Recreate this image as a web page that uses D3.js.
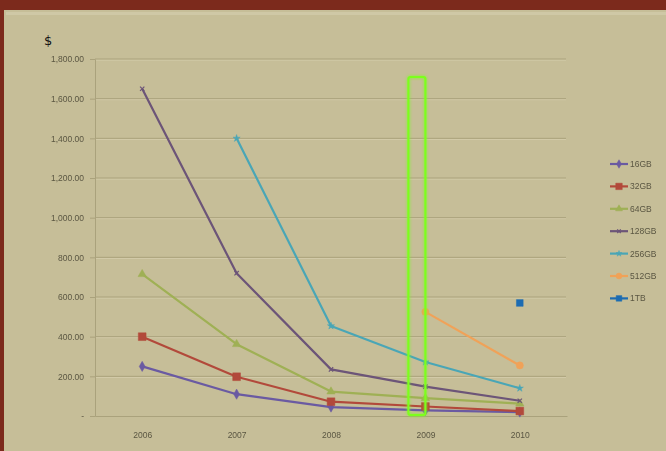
<!DOCTYPE html>
<html><head><meta charset="utf-8">
<script src="https://cdn.jsdelivr.net/npm/d3@7"></script>
<style>html,body{margin:0;padding:0;background:#c7bf99;}svg{display:block;}</style>
</head><body>
<svg id="chart" width="666" height="451"></svg>
<script>
const years = ["2006","2007","2008","2009","2010"];
const seriesNames = ["16GB","32GB","64GB","128GB","256GB","512GB","1TB"];
const s16GB  = [250, 110, 45, 28, 20];
const s32GB  = [400, 198, 72, 48, 25];
const s64GB  = [715, 362, 123, 90, 62];
const s128GB = [1650, 720, 235, 148, 77];
const s256GB = [null, 1400, 454, 272, 140];
const s512GB = [null, null, null, 525, 255];
const s1TB   = [null, null, null, null, 570];
const yTicks = [0, 200, 400, 600, 800, 1000, 1200, 1400, 1600, 1800];
const highlightYear = "2009";

const seriesValues = [s16GB, s32GB, s64GB, s128GB, s256GB, s512GB, s1TB];
const colors = ["#6a5aa2", "#b24a3a", "#9fb054", "#6c5478", "#4aa6b6", "#f0a258", "#1c6cb2"];
const markers = ["diamond", "square", "triangle", "cross", "star", "circle", "square"];
const markerSizes = [30, 60, 30, 14, 16, 40, 45];

const svg = d3.select("#chart");
// frame
svg.append("rect").attr("x",0).attr("y",0).attr("width",666).attr("height",451).attr("fill","#7c2a1c");
svg.append("rect").attr("x",4).attr("y",10).attr("width",662).attr("height",441).attr("fill","#c6be98");
svg.append("rect").attr("x",6).attr("y",12).attr("width",660).attr("height",3).attr("fill","#cfc8a6");

const defs = svg.append("defs");
defs.append("filter").attr("id","soft").append("feGaussianBlur").attr("stdDeviation",0.45);
const glow = defs.append("filter").attr("id","glow").attr("x","-50%").attr("y","-10%").attr("width","200%").attr("height","120%");
glow.append("feGaussianBlur").attr("stdDeviation",1.5).attr("result","b");
const m = glow.append("feMerge"); m.append("feMergeNode").attr("in","b"); m.append("feMergeNode").attr("in","SourceGraphic");

const x = d3.scalePoint().domain(years).range([95, 567]).padding(0.5);
const y = d3.scaleLinear().domain([0, 1800]).range([416, 59]);

const g = svg.append("g").attr("filter","url(#soft)");

// gridlines
g.append("g").selectAll("line.gl").data(yTicks.filter(d=>d>0)).join("line")
  .attr("x1",95).attr("x2",566).attr("y1",d=>y(d)+1).attr("y2",d=>y(d)+1)
  .attr("stroke","#d4cdab").attr("stroke-width",1);
g.append("g").selectAll("line.gd").data(yTicks.filter(d=>d>0)).join("line")
  .attr("x1",95).attr("x2",566).attr("y1",d=>y(d)).attr("y2",d=>y(d))
  .attr("stroke","#aaa27c").attr("stroke-width",1);

// y axis
const yAxis = d3.axisLeft(y).tickValues(yTicks).tickSize(5).tickPadding(6)
  .tickFormat(d => d === 0 ? "-" : d3.format(",.2f")(d));
const ya = g.append("g").attr("transform","translate(95,0)").call(yAxis);
ya.select(".domain").attr("stroke","#aaa27c");
ya.selectAll(".tick line").attr("stroke","#aaa27c");
ya.selectAll("text").attr("fill","#5a5642").attr("font-family","Liberation Sans, Arial, sans-serif").attr("font-size",8.5);

// x axis
const xAxis = d3.axisBottom(x).tickSize(0).tickPadding(16);
const xa = g.append("g").attr("transform","translate(0,416)").call(xAxis);
xa.select(".domain").attr("stroke","#aaa27c");
xa.selectAll("text").attr("fill","#5a5642").attr("font-family","Liberation Sans, Arial, sans-serif").attr("font-size",8.5);

// $ label
svg.append("text").attr("x",44).attr("y",45).text("$").attr("font-family","DejaVu Sans, sans-serif").attr("font-size",13).attr("fill","#111");

const line = d3.line().defined(d => d.v !== null).x(d => x(d.year)).y(d => y(d.v));

function drawMarker(sel, type, color, size) {
  const sym = {diamond: d3.symbolDiamond, square: d3.symbolSquare, triangle: d3.symbolTriangle,
    cross: d3.symbolX, star: d3.symbolStar, circle: d3.symbolCircle}[type];
  sel.attr("d", d3.symbol().type(sym).size(size))
    .attr("fill", type === "cross" ? "none" : color)
    .attr("stroke", color).attr("stroke-width", type === "cross" ? 1.2 : 0.5);
}

seriesNames.forEach((name, i) => {
  const pts = years.map((yr, j) => ({year: yr, v: seriesValues[i][j]}));
  g.append("path").datum(pts).attr("d", line).attr("fill","none")
    .attr("stroke", colors[i]).attr("stroke-width", 2.2).attr("stroke-linejoin","round");
  g.append("g").selectAll("path").data(pts.filter(d => d.v !== null)).join("path")
    .attr("transform", d => `translate(${x(d.year)},${y(d.v)})`)
    .each(function(){ drawMarker(d3.select(this), markers[i], colors[i], markerSizes[i]); });
});

// highlight box
const hx = x(highlightYear);
svg.append("rect").attr("x", hx - 17).attr("y", 77).attr("width", 17).attr("height", 338)
  .attr("rx", 2).attr("fill","none").attr("stroke","#7cff1a").attr("stroke-width",2).attr("filter","url(#glow)");

// legend
const lg = g.append("g").attr("transform","translate(610,164)");
seriesNames.forEach((name, i) => {
  const row = lg.append("g").attr("transform", `translate(0,${i*22.4})`);
  row.append("line").attr("x1",0).attr("x2",18).attr("stroke",colors[i]).attr("stroke-width",2.2);
  row.append("path").attr("transform","translate(9,0)")
    .call(s => drawMarker(s, markers[i], colors[i], markerSizes[i] * 0.7));
  row.append("text").attr("x",20).attr("y",3).text(name).attr("font-family","Liberation Sans, Arial, sans-serif")
    .attr("font-size",8.5).attr("fill","#5a5642");
});
</script>
</body></html>
